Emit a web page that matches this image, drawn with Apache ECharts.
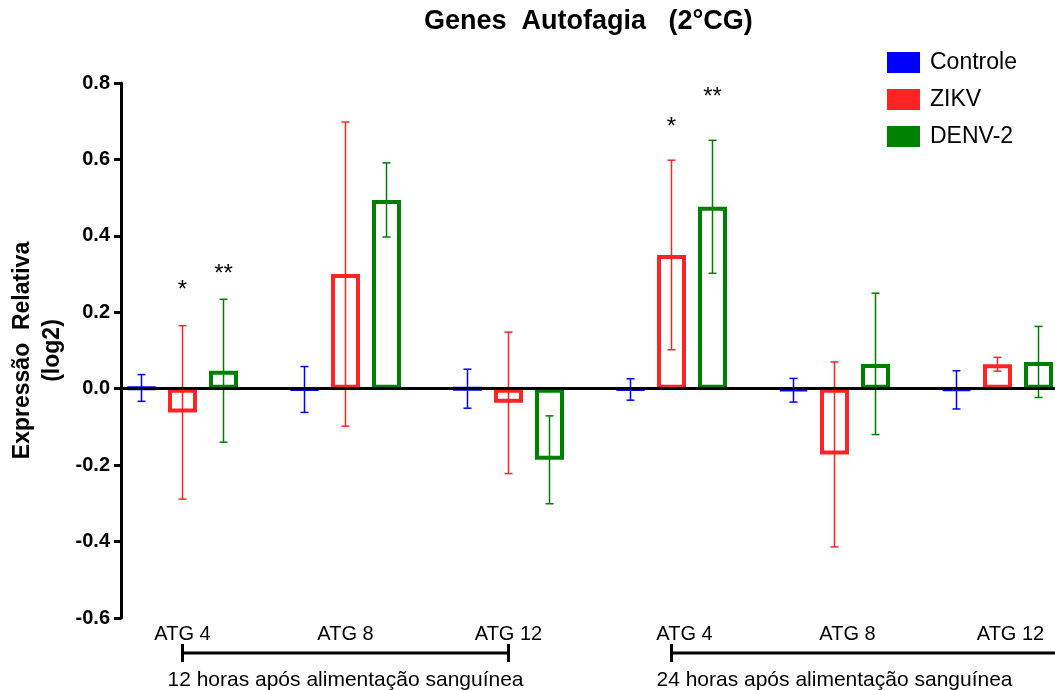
<!DOCTYPE html>
<html>
<head>
<meta charset="utf-8">
<script src="https://cdn.jsdelivr.net/npm/echarts@6/dist/echarts.min.js"></script>
<style>
html, body { margin: 0; padding: 0; background: #fff; }
#chart { width: 1055px; height: 690px; }
</style>
</head>
<body>
<div id="chart"></div>
<script>
// categorias (ATG 4/8/12 em 12h e 24h)
var categories = ['ATG 4', 'ATG 8', 'ATG 12', 'ATG 4', 'ATG 8', 'ATG 12'];
var seriesNames = ['Controle', 'ZIKV', 'DENV-2'];
var colors = ['#0000ff', '#ff2424', '#008000'];

// media e erro
var controle    = [0.002, -0.002, 0.000, -0.002, -0.004, -0.003];
var controleErr = [0.035, 0.060, 0.051, 0.028, 0.031, 0.050];
var zikv        = [-0.062, 0.300, -0.037, 0.350, -0.172, 0.064];
var zikvErr     = [0.227, 0.398, 0.185, 0.248, 0.242, 0.018];
var denv        = [0.047, 0.494, -0.186, 0.476, 0.065, 0.070];
var denvErr     = [0.187, 0.097, 0.115, 0.174, 0.185, 0.093];

// asteriscos: [categoria, serie, texto, y]
var stars = [[0, 1, '*', 0.27], [0, 2, '**', 0.312], [3, 1, '*', 0.698], [3, 2, '**', 0.776]];
// colchetes: [texto, inicio, fim, centro do texto] em unidades de categoria
var groups = [
    ['12 horas após alimentação sanguínea', -0.267, 2.279, 1.01],
    ['24 horas após alimentação sanguínea', 2.819, 5.8, 4.095]
];

var BAR_W = 29;     // largura externa da barra
var BAR_GAP = 0.414; // espaco entre barras / largura

var myChart = echarts.init(document.getElementById('chart'));

function errorSeries(idx, vals, errs) {
    return {
        name: seriesNames[idx] + ' err',
        type: 'custom',
        xAxisIndex: 1,
        yAxisIndex: 1,
        z: 3,
        data: vals.map(function (v, i) { return [i, v, errs[i]]; }),
        renderItem: function (params, api) {
            var cat = api.value(0), v = api.value(1), e = api.value(2);
            var off = (idx - 1) * BAR_W * (1 + BAR_GAP);
            var top = api.coord([cat, v + e]);
            var bot = api.coord([cat, v - e]);
            var x = top[0] + off;
            var st = { stroke: colors[idx], lineWidth: 1.5 };
            return {
                type: 'group',
                children: [
                    { type: 'line', shape: { x1: x, y1: top[1], x2: x, y2: bot[1] }, style: st },
                    { type: 'line', shape: { x1: x - 4, y1: top[1], x2: x + 4, y2: top[1] }, style: st },
                    { type: 'line', shape: { x1: x - 4, y1: bot[1], x2: x + 4, y2: bot[1] }, style: st }
                ]
            };
        }
    };
}

function barSeries(idx, vals) {
    return {
        name: seriesNames[idx],
        type: 'bar',
        xAxisIndex: 1,
        yAxisIndex: 1,
        barWidth: BAR_W,
        barGap: (BAR_GAP * 100) + '%',
        data: vals,
        itemStyle: {
            color: 'rgba(0,0,0,0)',
            borderColor: colors[idx],
            borderWidth: 4
        }
    };
}

var option = {
    animation: false,
    textStyle: { fontFamily: 'Liberation Sans, Arial, sans-serif', color: '#000' },
    title: {
        text: 'Genes  Autofagia   (2°CG)',
        left: 419,
        top: 3,
        textStyle: { fontSize: 27, fontWeight: 'bold', color: '#000' }
    },
    legend: {
        orient: 'vertical',
        left: 887,
        top: 51,
        padding: 0,
        itemWidth: 33,
        itemHeight: 21,
        itemGap: 14,
        selectedMode: false,
        textStyle: { fontSize: 23, color: '#000', padding: [0, 0, 0, 5] },
        data: seriesNames.map(function (n, i) {
            return { name: n, icon: 'rect', itemStyle: { color: colors[i], borderWidth: 0 } };
        })
    },
    grid: [
        // eixos visiveis
        { left: 121, right: 0, top: 83, bottom: 72, outerBoundsMode: 'none' },
        // categorias
        { left: 101, width: 978, top: 83, bottom: 72, outerBoundsMode: 'none' }
    ],
    xAxis: [
        {
            type: 'value', gridIndex: 0, min: 0, max: 1, z: 5,
            axisLine: { show: true, onZero: true, lineStyle: { color: '#000', width: 3 } },
            axisTick: { show: false },
            axisLabel: { show: false },
            splitLine: { show: false }
        },
        {
            type: 'category', gridIndex: 1, data: categories,
            axisLine: { show: false, onZero: false },
            axisTick: { show: false },
            splitLine: { show: false },
            axisLabel: {
                interval: 0,
                margin: 6,
                fontSize: 20,
                color: '#000',
                formatter: function (v, i) { return i >= 3 ? '{s|' + v + '}' : v; },
                rich: { s: { fontSize: 20, color: '#000', padding: [0, 0, 0, 26] } }
            }
        }
    ],
    yAxis: [
        {
            type: 'value', gridIndex: 0, min: -0.6, max: 0.8, interval: 0.2, z: 5,
            name: 'Expressão  Relativa\n(log2)',
            nameLocation: 'middle',
            nameGap: 53,
            nameMoveOverlap: false,
            nameRotate: 90,
            nameTextStyle: { fontSize: 23, fontWeight: 'bold', color: '#000', lineHeight: 30 },
            axisLine: { show: true, lineStyle: { color: '#000', width: 3 } },
            axisTick: { show: true, length: 7, lineStyle: { color: '#000', width: 3 } },
            axisLabel: {
                margin: 11, fontSize: 20, fontWeight: 'bold', color: '#000',
                formatter: function (v) { return v.toFixed(1); }
            },
            splitLine: { show: false }
        },
        {
            type: 'value', gridIndex: 1, min: -0.6, max: 0.8, interval: 0.2, show: false
        }
    ],
    series: [
        barSeries(0, controle),
        barSeries(1, zikv),
        barSeries(2, denv),
        errorSeries(0, controle, controleErr),
        errorSeries(1, zikv, zikvErr),
        errorSeries(2, denv, denvErr),
        {
            name: 'stars',
            type: 'custom',
            xAxisIndex: 1,
            yAxisIndex: 1,
            z: 4,
            data: stars.map(function (s) { return [s[0], s[3]]; }),
            renderItem: function (params, api) {
                var s = stars[params.dataIndex];
                var p = api.coord([s[0], s[3]]);
                return {
                    type: 'text',
                    style: {
                        x: p[0] + (s[1] - 1) * BAR_W * (1 + BAR_GAP),
                        y: p[1] + 5,
                        text: s[2],
                        fill: '#000',
                        font: '24px Liberation Sans, Arial, sans-serif',
                        textAlign: 'center',
                        textVerticalAlign: 'middle'
                    }
                };
            }
        },
        {
            name: 'groups',
            type: 'custom',
            xAxisIndex: 1,
            yAxisIndex: 1,
            z: 4,
            data: groups.map(function (g) { return [g[1], -0.6]; }),
            renderItem: function (params, api) {
                var g = groups[params.dataIndex];
                var a = api.coord([g[1], -0.6]);
                var b = api.coord([g[2], -0.6]);
                var c = api.coord([g[3], -0.6]);
                var y = a[1] + 35;
                var st = { stroke: '#000', lineWidth: 3 };
                return {
                    type: 'group',
                    children: [
                        { type: 'line', shape: { x1: a[0], y1: y, x2: b[0], y2: y }, style: st },
                        { type: 'line', shape: { x1: a[0], y1: y - 9, x2: a[0], y2: y + 9 }, style: st },
                        { type: 'line', shape: { x1: b[0], y1: y - 9, x2: b[0], y2: y + 9 }, style: st },
                        {
                            type: 'text',
                            style: {
                                x: c[0], y: y + 27, text: g[0], fill: '#000',
                                font: '21px Liberation Sans, Arial, sans-serif',
                                textAlign: 'center', textVerticalAlign: 'middle'
                            }
                        }
                    ]
                };
            }
        }
    ]
};

myChart.setOption(option);
</script>
</body>
</html>
